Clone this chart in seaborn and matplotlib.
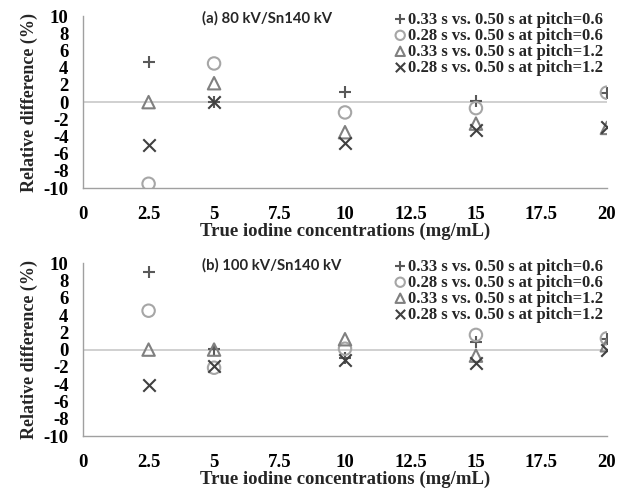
import pandas as pd
import matplotlib
matplotlib.use('Agg')
import matplotlib.pyplot as plt
import seaborn as sns

# True iodine concentrations (mg/mL)
conc = [2.5, 5, 10, 15, 20]

series_names = [
    '0.33 s vs. 0.50 s at pitch=0.6',
    '0.28 s vs. 0.50 s at pitch=0.6',
    '0.33 s vs. 0.50 s at pitch=1.2',
    '0.28 s vs. 0.50 s at pitch=1.2',
]

# (a) 80 kV/Sn140 kV
a_033_p06 = [4.7, 0.0, 1.2, 0.1, 1.1]
a_028_p06 = [-9.5, 4.5, -1.2, -0.7, 1.1]
a_033_p12 = [0.0, 2.2, -3.5, -2.5, -3.0]
a_028_p12 = [-5.0, 0.0, -4.8, -3.3, -2.9]

# (b) 100 kV/Sn140 kV
b_033_p06 = [9.0, 0.1, -1.0, 0.9, 1.2]
b_028_p06 = [4.5, -2.1, 0.1, 1.7, 1.3]
b_033_p12 = [0.0, 0.0, 1.2, -0.7, 0.5]
b_028_p12 = [-4.1, -1.9, -1.2, -1.6, 0.0]

panel_titles = ['(a) 80 kV/Sn140 kV', '(b) 100 kV/Sn140 kV']
x_ticks = [0, 2.5, 5, 7.5, 10, 12.5, 15, 17.5, 20]
x_tick_labels = ['0', '2.5', '5', '7.5', '10', '12.5', '15', '17.5', '20']
y_ticks = list(range(-10, 11, 2))

markers = ['+', 'o', '^', 'x']
colors = ['#595959', '#a6a6a6', '#808080', '#404040']


def build_frame():
    rows = []
    panels = [
        (panel_titles[0], [a_033_p06, a_028_p06, a_033_p12, a_028_p12]),
        (panel_titles[1], [b_033_p06, b_028_p06, b_033_p12, b_028_p12]),
    ]
    for title, values in panels:
        for name, ys in zip(series_names, values):
            for x, y in zip(conc, ys):
                rows.append({'panel': title, 'series': name, 'x': x, 'y': y})
    return pd.DataFrame(rows)


def draw_panel(ax, df, title):
    for name, m, c in zip(series_names, markers, colors):
        sub = df[(df['panel'] == title) & (df['series'] == name)]
        if m in ('+', 'x'):
            sns.scatterplot(data=sub, x='x', y='y', ax=ax, marker=m, color=c,
                            s=80, linewidth=1.5, label=name, zorder=3)
        else:
            sns.scatterplot(data=sub, x='x', y='y', ax=ax, marker=m,
                            facecolors='none', edgecolor=c, s=80,
                            linewidth=1.5, label=name, zorder=3)

    ax.axhline(0, color='#c8c8c8', lw=1.2, zorder=1)
    ax.set_xlim(0, 20)
    ax.set_ylim(-10, 10)
    ax.set_xticks(x_ticks)
    ax.set_xticklabels(x_tick_labels)
    ax.set_yticks(y_ticks)
    for s in ['top', 'right']:
        ax.spines[s].set_visible(False)
    for s in ['left', 'bottom']:
        ax.spines[s].set_color('#a0a0a0')
        ax.spines[s].set_linewidth(1.0)
    ax.tick_params(axis='both', colors='#a0a0a0', length=4, width=1.0,
                   labelcolor='black', labelsize=13.5)
    for lab in ax.get_xticklabels() + ax.get_yticklabels():
        lab.set_fontfamily('Liberation Serif')
        lab.set_fontweight('bold')
    ax.tick_params(axis='x', pad=9)
    ax.tick_params(axis='y', pad=6.5)

    ax.set_xlabel('True iodine concentrations (mg/mL)', fontfamily='Liberation Serif',
                  fontweight='bold', fontsize=13.5, labelpad=0)
    ax.set_ylabel('Relative difference (%)', fontfamily='Liberation Serif',
                  fontweight='bold', fontsize=13, labelpad=4)
    ax.text(0.227, 0.985, title, transform=ax.transAxes, ha='left', va='center',
            fontfamily='Lato', fontweight='bold', fontsize=10.7)

    leg = ax.legend(loc='upper right', bbox_to_anchor=(1.005, 1.065), frameon=False,
                    prop={'family': 'Liberation Serif', 'weight': 'bold', 'size': 12},
                    handletextpad=0.0, labelspacing=0.0, borderaxespad=0,
                    handlelength=0.9, markerscale=0.75)
    return leg


def main():
    sns.set_style('white')
    plt.rcParams['axes.unicode_minus'] = False
    df = build_frame()
    fig = plt.figure(figsize=(6.25, 4.91), dpi=100)
    ax1 = fig.add_axes([0.133, 0.617, 0.838, 0.350])
    ax2 = fig.add_axes([0.133, 0.112, 0.838, 0.352])
    draw_panel(ax1, df, panel_titles[0])
    draw_panel(ax2, df, panel_titles[1])
    fig.savefig('out.png', dpi=100)


if __name__ == '__main__':
    main()
